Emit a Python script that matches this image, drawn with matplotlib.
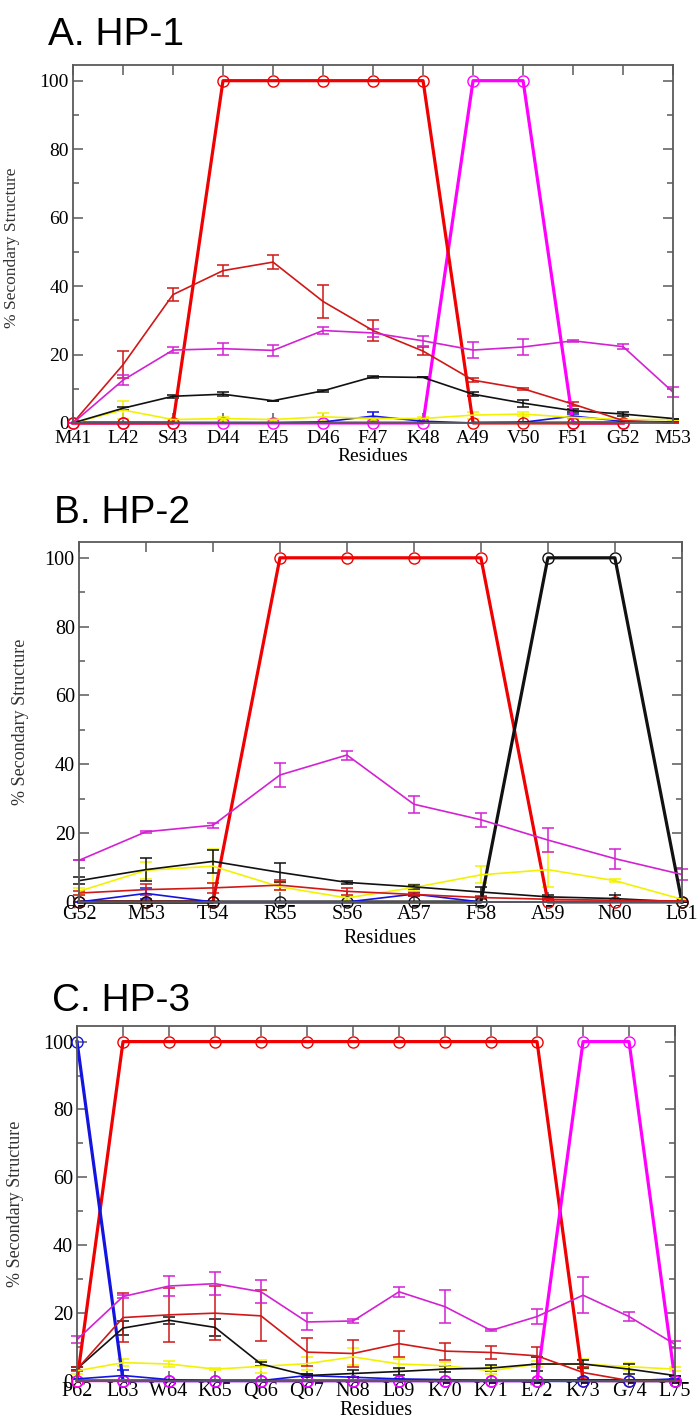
import numpy as np
import matplotlib.pyplot as plt
from matplotlib.ticker import MultipleLocator

# residue labels
hp1_res = ['M41', 'L42', 'S43', 'D44', 'E45', 'D46', 'F47', 'K48', 'A49', 'V50', 'F51', 'G52', 'M53']
hp2_res = ['G52', 'M53', 'T54', 'R55', 'S56', 'A57', 'F58', 'A59', 'N60', 'L61']
hp3_res = ['P62', 'L63', 'W64', 'K65', 'Q66', 'Q67', 'N68', 'L69', 'K70', 'K71', 'E72', 'K73', 'G74', 'L75']

# HP-1, averages with error bars
hp1_red = [0, 17, 37.5, 44.5, 47, 35.5, 27, 21, 12.5, 10, 5.5, 0.7, 0]
hp1_red_err = [0, 4, 2, 1.7, 2, 4.8, 3.2, 1.2, 0.5, 0.3, 0.5, 0, 0]
hp1_mag = [0, 12.5, 21.3, 21.7, 21.2, 27, 26.3, 24, 21.3, 22.2, 24, 22.3, 9]
hp1_mag_err = [0, 1.5, 1, 1.7, 1.5, 1, 1.2, 1.5, 2.3, 2.2, 0.3, 0.8, 1.5]
hp1_blk = [0, 4.3, 7.8, 8.4, 6.5, 9.4, 13.5, 13.3, 8.4, 5.8, 3.6, 2.6, 1.3]
hp1_blk_err = [0, 0.4, 0.5, 0.5, 0, 0.3, 0.3, 0, 0.5, 1, 0.5, 0.6, 0]
hp1_yel = [0, 3.8, 1, 1.3, 1, 1.8, 1.3, 1.3, 2.3, 2.6, 1.6, 1, 1]
hp1_yel_err = [0, 2.5, 0.3, 0.5, 0.3, 1, 0.3, 0.3, 1, 0.5, 0.3, 0, 0]
hp1_blu = [0, 0, 0, 0, 0, 0.3, 2, 0.5, 0, 0.2, 2, 0.5, 0.3]
hp1_blu_err = [0, 0, 0, 0, 0, 0, 1.3, 0, 0, 0, 0.5, 0, 0]
# HP-1 reference structure (M41..G52)
hp1_ref_mag = [0, 0, 0, 0, 0, 0, 0, 0, 100, 100, 0, 0]
hp1_ref_red = [0, 0, 0, 100, 100, 100, 100, 100, 0, 0, 0, 0]

# HP-2
hp2_mag = [12.1, 20.4, 22.3, 36.9, 42.7, 28.4, 23.9, 18, 12.6, 8]
hp2_mag_err = [0, 0.3, 0.7, 3.6, 1.3, 2.4, 2, 3.6, 2.9, 1.5]
hp2_blk = [6.2, 9.4, 11.8, 8.6, 5.7, 4.4, 2.9, 1.5, 1, 0]
hp2_blk_err = [1, 3.3, 3.4, 2.8, 0.5, 0.5, 1.5, 0.5, 1, 0]
hp2_yel = [3.1, 9.2, 10.4, 4.4, 1.2, 4.2, 7.9, 9.4, 6.2, 0.8]
hp2_yel_err = [1, 2.5, 5, 1, 0.5, 1, 2.5, 5, 0.5, 0]
hp2_red = [2.6, 3.6, 4.1, 4.9, 3.1, 2.2, 1.3, 0.8, 0.5, 0.3]
hp2_red_err = [0.5, 1.5, 1.5, 1.5, 1, 0.5, 0.5, 0.3, 0.3, 0]
hp2_blu = [0, 2.5, 0, 0, 0, 2.3, 0, 0, 0, 0]
hp2_blu_err = [0, 1.5, 0, 0, 0, 0.5, 0, 0, 0, 0]
hp2_ref_red = [0, 0, 0, 100, 100, 100, 100, 0, 0, 0]
hp2_ref_blk = [0, 0, 0, 0, 0, 0, 0, 100, 100, 0]

# HP-3
hp3_mag = [12.1, 24.8, 27.9, 28.6, 26.2, 17.3, 17.6, 26.2, 21.8, 14.8, 18.9, 25.2, 18.9, 10.7]
hp3_mag_err = [1, 0.5, 3, 3.3, 3.4, 2.5, 0.5, 1.5, 4.8, 0.3, 2.3, 5.3, 1.2, 1]
hp3_red = [3.4, 18.6, 19.4, 19.9, 19.1, 8.4, 8, 10.9, 8.7, 8.3, 7.3, 2.4, 0, 0]
hp3_red_err = [0.5, 7.3, 8, 8, 7.5, 4.2, 4, 3.8, 2.5, 2, 2.5, 1.5, 0, 0]
hp3_blk = [3.5, 15.5, 17.8, 15.7, 4.9, 1.5, 2.1, 2.7, 3.4, 3.7, 4.9, 4.9, 3.4, 1.5]
hp3_blk_err = [0.5, 2, 1, 2.5, 0.5, 0.5, 1, 1, 1, 1, 2, 1.2, 1.5, 0]
hp3_yel = [2.9, 5.3, 4.9, 3.4, 4.2, 5, 7, 4.9, 4.4, 2.9, 4.9, 4.9, 4.1, 3.4]
hp3_yel_err = [1, 1, 1, 0.3, 2, 2, 2.5, 1.5, 1, 1, 1, 1.5, 1, 0.5]
hp3_blu = [0.5, 1.5, 0.3, 0, 0, 1.5, 1, 0.5, 0.3, 0, 0, 0, 0, 0.5]
hp3_blu_err = [0, 1.5, 0, 0, 0, 0.5, 0, 0, 0, 0, 0, 0, 0, 0]
hp3_ref_red = [0, 100, 100, 100, 100, 100, 100, 100, 100, 100, 100, 0, 0, 0]
hp3_ref_blu = [100, 0, 0, 0, 0, 0, 0, 0, 0, 0, 0, 0, 0, 0]
hp3_ref_mag = [0, 0, 0, 0, 0, 0, 0, 0, 0, 0, 0, 100, 100, 0]

RED = '#f00000'
RED2 = '#d01818'
MAG = '#ff00ff'
MAG2 = '#d222d2'
BLK = '#111111'
YEL = '#f2f200'
BLU = '#1414e0'
AXC = '#5a5a5a'


def draw_panel(ax, res, thin, thick, fs, xpad):
    for vals, err, c in thin:
        x = np.arange(len(vals))
        ax.errorbar(x, vals, yerr=err, color=c, lw=1.2, elinewidth=1.1,
                    capsize=4.5, capthick=1.1, clip_on=False)
    for vals, c in thick:
        x = np.arange(len(vals))
        ax.plot(x, vals, color=c, lw=2.3, marker='o', ms=8, mfc='none',
                mec=c, mew=1.0, clip_on=False)
    ax.set_xlim(0, len(res) - 1)
    ax.set_ylim(0, 104.6)
    ax.set_xticks(np.arange(len(res)))
    ax.set_xticklabels(res, family='Liberation Serif', fontsize=fs)
    ax.yaxis.set_major_locator(MultipleLocator(20))
    ax.yaxis.set_minor_locator(MultipleLocator(10))
    for t in ax.get_yticklabels():
        t.set_family('Liberation Serif')
        t.set_fontsize(fs)
    ax.tick_params(axis='both', which='major', direction='in', length=7,
                   width=1.1, color=AXC, top=True, right=True)
    ax.tick_params(axis='y', which='minor', direction='in', length=4,
                   width=1.1, color=AXC, right=True)
    ax.tick_params(axis='x', pad=xpad)
    ax.tick_params(axis='y', pad=3)
    for s in ax.spines.values():
        s.set_color(AXC)
        s.set_linewidth(1.3)
    ax.set_xlabel('Residues', family='Liberation Serif', fontsize=fs)
    ax.set_ylabel('% Secondary Structure', family='Liberation Serif',
                  fontsize=fs - 1.5, color='#333333')


fig = plt.figure(figsize=(6.97, 14.27), dpi=100)

ax1 = fig.add_axes([0.1047, 0.7036, 0.861, 0.2509])
draw_panel(ax1, hp1_res,
           [(hp1_blu, hp1_blu_err, BLU), (hp1_yel, hp1_yel_err, YEL),
            (hp1_blk, hp1_blk_err, BLK), (hp1_red, hp1_red_err, RED2),
            (hp1_mag, hp1_mag_err, MAG2)],
           [(hp1_ref_mag, MAG), (hp1_ref_red, RED)], 14, 5)
ax1.xaxis.set_label_coords(0.5, -0.07)
ax1.yaxis.set_label_coords(-0.088, 0.49)
fig.text(0.069, 0.9685, 'A. HP-1', family='Liberation Sans', fontsize=28,
         va='baseline')

ax2 = fig.add_axes([0.1133, 0.3679, 0.865, 0.2523])
draw_panel(ax2, hp2_res,
           [(hp2_blu, hp2_blu_err, BLU), (hp2_yel, hp2_yel_err, YEL),
            (hp2_blk, hp2_blk_err, BLK), (hp2_red, hp2_red_err, RED2),
            (hp2_mag, hp2_mag_err, MAG2)],
           [(hp2_ref_red, RED), (hp2_ref_blk, BLK)], 14.5, 2)
ax2.xaxis.set_label_coords(0.5, -0.076)
ax2.yaxis.set_label_coords(-0.083, 0.5)
fig.text(0.077, 0.6335, 'B. HP-2', family='Liberation Sans', fontsize=28,
         va='baseline')

ax3 = fig.add_axes([0.1105, 0.0325, 0.858, 0.2485])
draw_panel(ax3, hp3_res,
           [(hp3_blu, hp3_blu_err, BLU), (hp3_yel, hp3_yel_err, YEL),
            (hp3_blk, hp3_blk_err, BLK), (hp3_red, hp3_red_err, RED2),
            (hp3_mag, hp3_mag_err, MAG2)],
           [(hp3_ref_red, RED), (hp3_ref_blu, BLU), (hp3_ref_mag, MAG)], 14.5, 1)
ax3.xaxis.set_label_coords(0.5, -0.058)
ax3.yaxis.set_label_coords(-0.089, 0.5)
fig.text(0.075, 0.2915, 'C. HP-3', family='Liberation Sans', fontsize=28,
         va='baseline')

fig.savefig('out.png', dpi=100)
